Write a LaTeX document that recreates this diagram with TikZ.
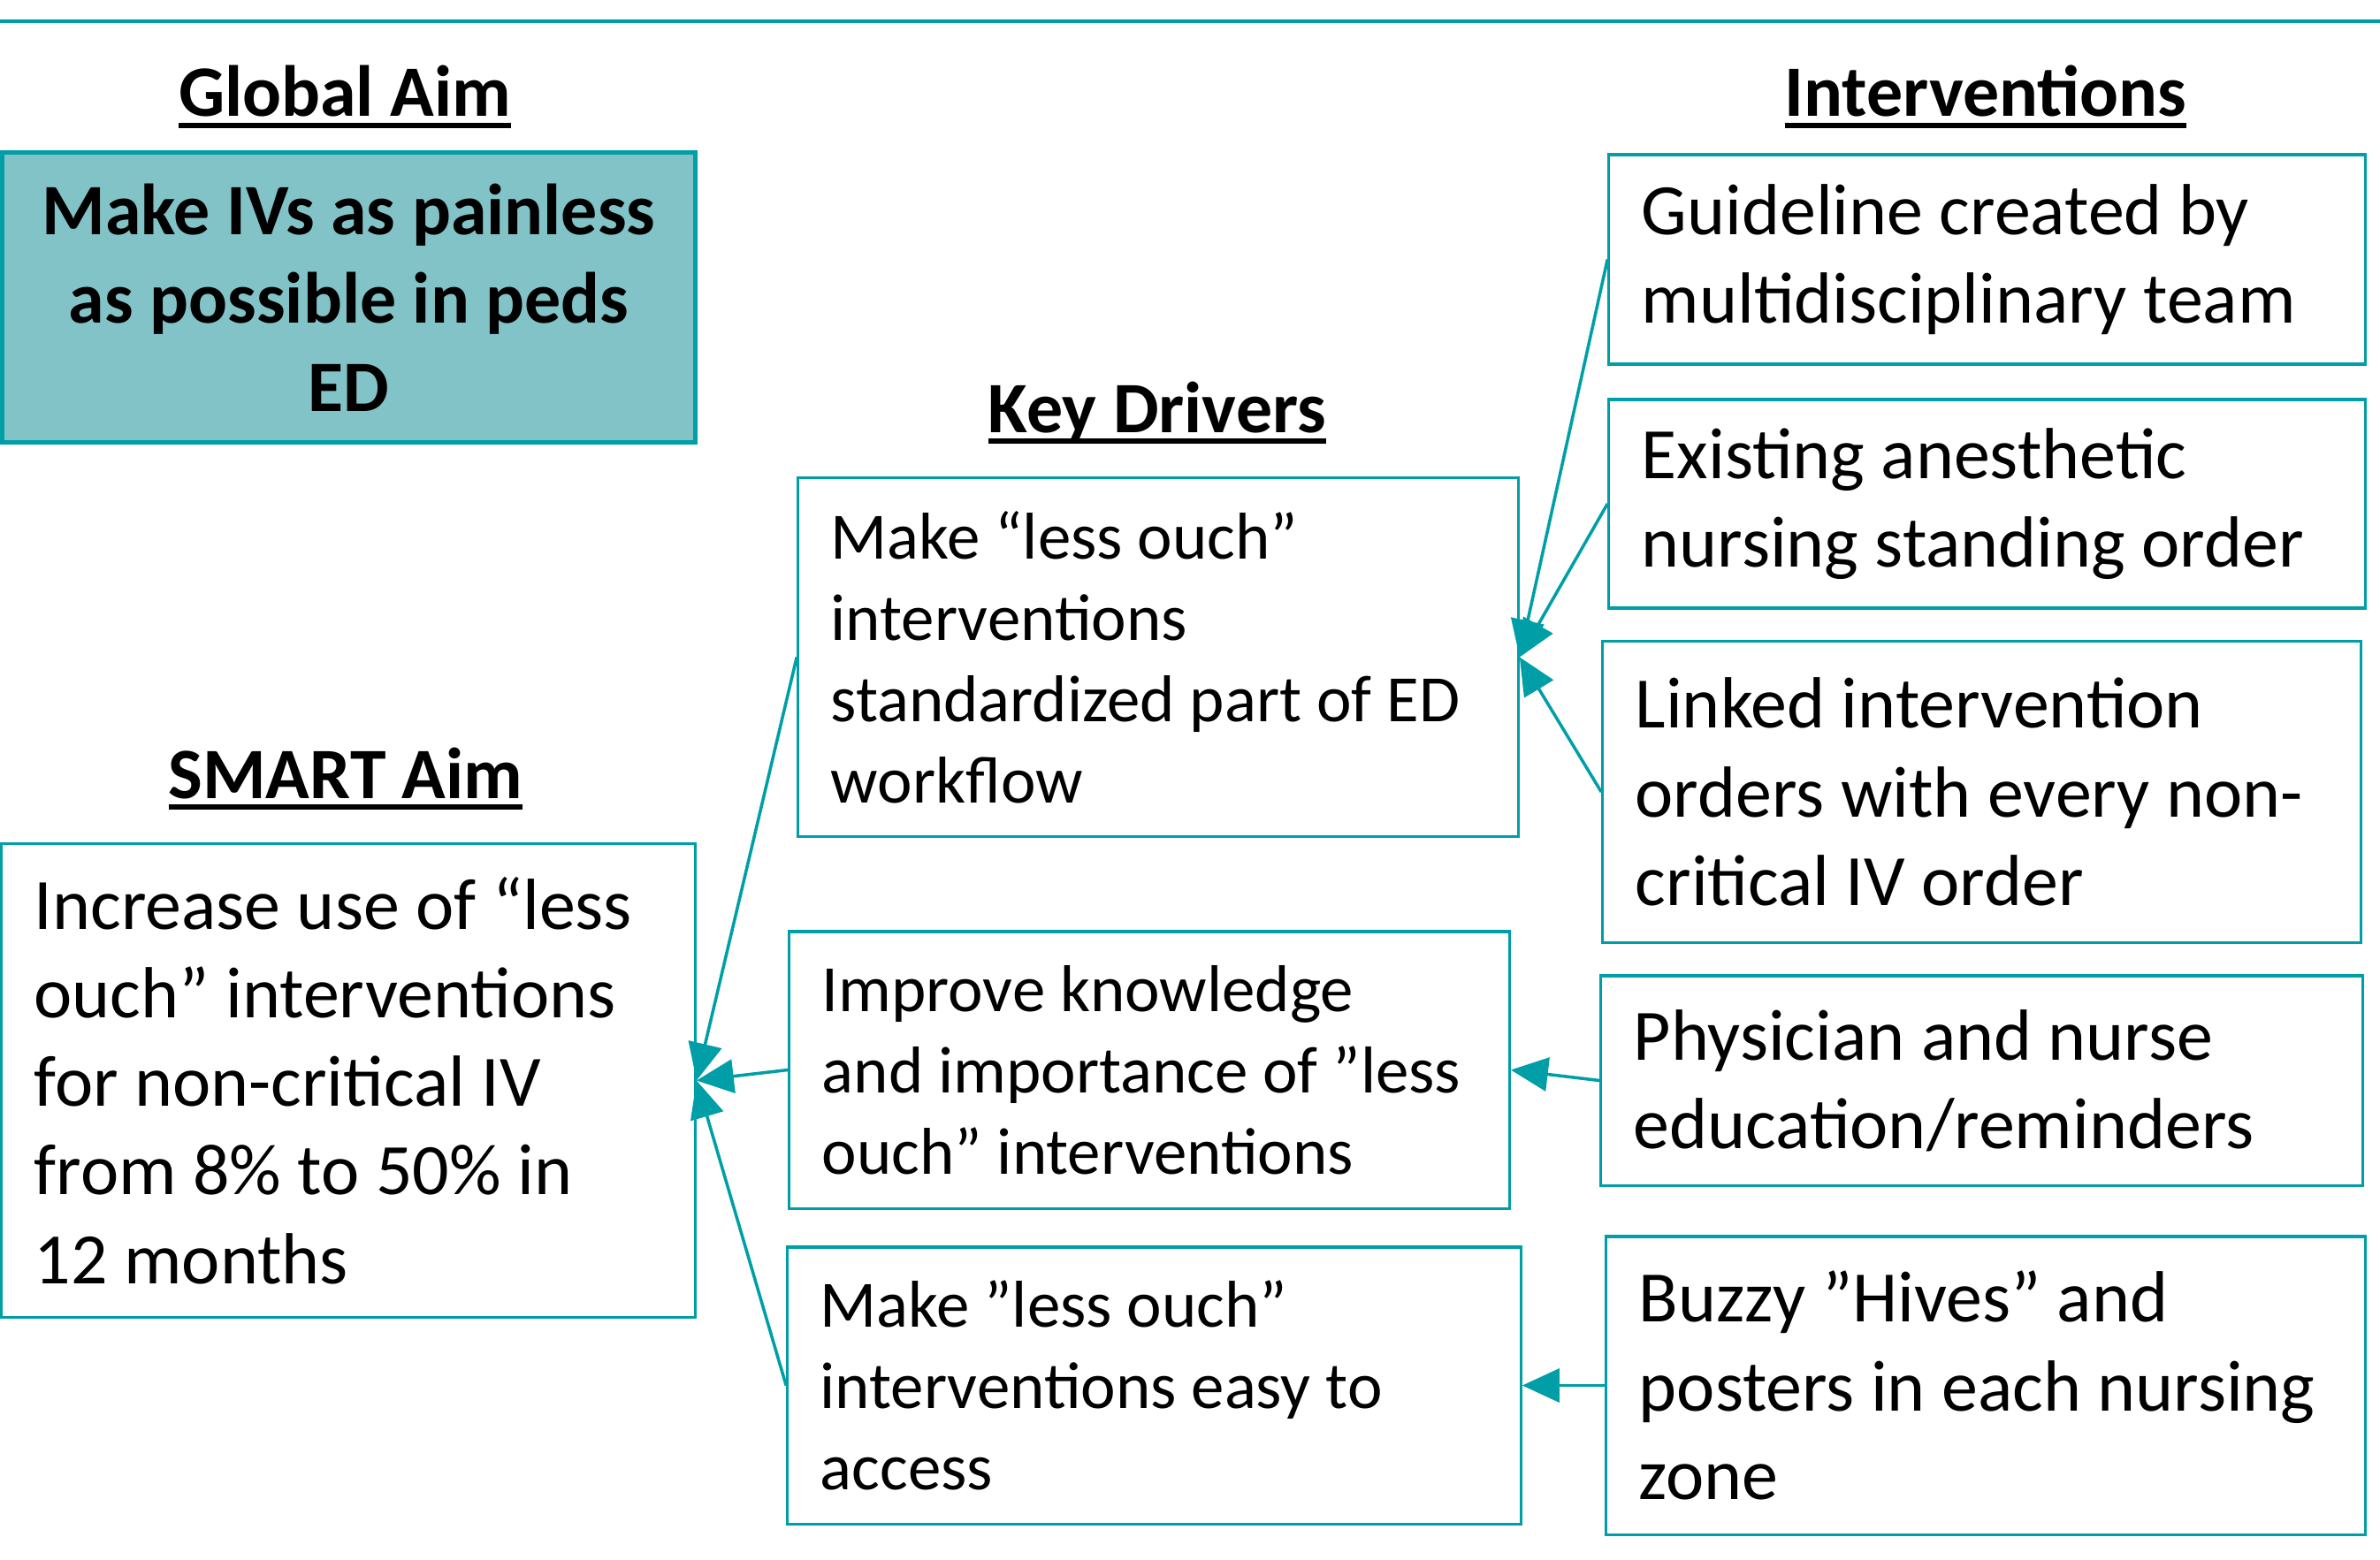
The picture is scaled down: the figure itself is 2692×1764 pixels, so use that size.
\documentclass[tikz,border=0pt]{standalone}
\usepackage{fontspec}
\setmainfont{Carlito}
\usepackage{tikz}
\usetikzlibrary{arrows.meta}

\definecolor{teal0}{RGB}{0,158,166}
\definecolor{gafill}{RGB}{130,195,200}

\newcommand{\hdline}[1]{\setbox0\hbox{#1}\rlap{\rule[-0.16em]{\wd0}{0.07em}}\box0}
\newcommand{\tightsp}{\spaceskip=0.226em plus 0.02em\xspaceskip=0.226em plus 0.02em\hyphenpenalty=10000}

\begin{document}
\begin{tikzpicture}[x=0.01cm,y=-0.01cm,
  aimbox/.style={draw=teal0, line width=0.9pt, inner xsep=0.37cm, inner ysep=0pt,
    execute at begin node={\raggedright\tightsp},
    font=\fontsize{23.3}{28.5}\selectfont},
  drvbox/.style={aimbox, font=\fontsize{21.3}{26.2}\selectfont},
  hd/.style={anchor=base, inner sep=0pt, font=\fontsize{23.3}{28.5}\selectfont\bfseries\tightsp},
  feed/.style={draw=teal0, line width=1pt, -{Triangle[length=0.42cm,width=0.38cm]}}]
  \useasboundingbox (0,0) rectangle (2692,1764);

  \draw[teal0, line width=1pt] (0,24) -- (2692,24);

  % headings
  \node[hd] (hglobal) at (390,132) {\hdline{Global Aim}};
  \node[hd] (hsmart)  at (391,903) {\hdline{SMART Aim}};
  \node[hd] (hdriver) at (1309,489) {\hdline{Key Drivers}};
  \node[hd] (hinterv) at (2246,132) {\hdline{Interventions}};

  % aims
  \node[draw=teal0, line width=1.4pt, fill=gafill, inner xsep=0.2cm, inner ysep=0pt,
    text width=7.43cm, minimum height=3.27cm,
    execute at begin node={\centering\tightsp},
    font=\fontsize{23.3}{28.5}\selectfont\bfseries]
    (global) at (394.5,336.5)
    {Make IVs as painless\\ as possible in peds\\ ED};
  \node[aimbox, text width=7.10cm, minimum height=5.35cm] (smart) at (394,1222.5)
    {Increase use of “less\\ ouch” interventions\\ for non-critical IV\\ from 8\% to 50\% in\\ 12 months};

  % key drivers
  \node[drvbox, text width=7.40cm, minimum height=4.05cm] (kd1) at (1310,743.5)
    {Make “less ouch”\\ interventions\\ standardized part of ED\\ workflow};
  \node[drvbox, text width=7.40cm, minimum height=3.13cm] (kd2) at (1300,1210.5)
    {Improve knowledge\\ and importance of ”less\\ ouch” interventions};
  \node[drvbox, text width=7.55cm, minimum height=3.13cm] (kd3) at (1305.5,1567.5)
    {Make ”less ouch”\\ interventions easy to\\ access};

  % interventions
  \node[aimbox, text width=7.81cm, minimum height=2.37cm] (iv1) at (2247.5,293.5)
    {Guideline created by\\ multidisciplinary team};
  \node[aimbox, text width=7.81cm, minimum height=2.36cm] (iv2) at (2247.5,570)
    {Existing anesthetic\\ nursing standing order};
  \node[aimbox, text width=7.83cm, minimum height=3.40cm] (iv3) at (2241.5,896)
    {Linked intervention\\ orders with every non-\\ critical IV order};
  \node[aimbox, text width=7.87cm, minimum height=2.37cm] (iv4) at (2241.5,1222.5)
    {Physician and nurse\\ education/reminders};
  \node[aimbox, text width=7.84cm, minimum height=3.37cm] (iv5) at (2246,1567.5)
    {Buzzy ”Hives” and\\ posters in each nursing\\ zone};

  \draw[feed] (kd1.west) -- (smart.east);
  \draw[feed] (kd2.west) -- (smart.east);
  \draw[feed] (kd3.west) -- (smart.east);

  \draw[feed] (iv1.west) -- (kd1.east);
  \draw[feed] (iv2.west) -- (kd1.east);
  \draw[feed] (iv3.west) -- (kd1.east);
  \draw[feed] (iv4.west) -- (kd2.east);
  \draw[feed] (iv5.west) -- (kd3.east);
\end{tikzpicture}
\end{document}
